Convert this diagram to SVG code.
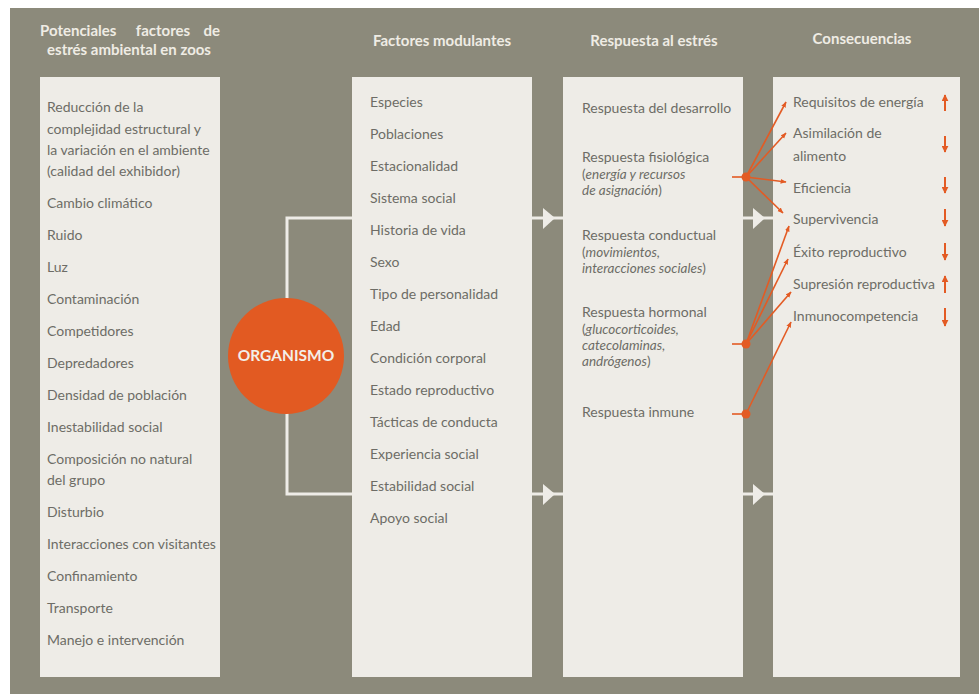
<svg xmlns="http://www.w3.org/2000/svg" width="979" height="694" viewBox="0 0 979 694">
<style>
.bg{fill:#8c8a7b}
.panel{fill:#eeece7}
.t{font-family:Lato,"Noto Sans",sans-serif;font-size:14px;fill:#6d6c66}
.ti{font-family:Lato,"Noto Sans",sans-serif;font-size:13.5px;fill:#6d6c66}
.it{font-style:italic}
.h{font-family:Lato,"Noto Sans",sans-serif;font-size:15px;font-weight:bold;fill:#efece4}
.wl{stroke:#eeece7;stroke-width:3;fill:none}
.wa{fill:#eeece7}
.ol{stroke:#e35b24;stroke-width:1.6;fill:none}
.tr{stroke:#e35b24;stroke-width:2;fill:none}
.od{fill:#e35b24}
</style>
<defs>
<marker id="oa" viewBox="0 0 10 10" refX="9" refY="5" markerWidth="6" markerHeight="6" orient="auto" markerUnits="userSpaceOnUse">
<path d="M0,1 L10,5 L0,9 Z" fill="#e35b24"/>
</marker>
<marker id="ta" viewBox="0 0 10 10" refX="9" refY="5" markerWidth="7" markerHeight="7" orient="auto" markerUnits="userSpaceOnUse">
<path d="M0,0 L10,5 L0,10 Z" fill="#e35b24"/>
</marker>
</defs>
<rect x="0" y="0" width="979" height="694" fill="#ffffff"/>
<rect class="bg" x="10" y="8" width="969" height="686"/>

<g id="connectors">
<polyline class="wl" points="773,218 287,218 287,494 773,494"/>
<path class="wa" d="M543,208 L555,218 L543,229 Z"/>
<path class="wa" d="M543,484 L555,494 L543,505 Z"/>
<path class="wa" d="M753,208 L765,218 L753,229 Z"/>
<path class="wa" d="M753,484 L765,494 L753,505 Z"/>
</g>

<g id="headers">
<text class="h" x="40" y="36">Potenciales</text>
<text class="h" x="163" y="36" text-anchor="middle">factores</text>
<text class="h" x="220" y="36" text-anchor="end">de</text>
<text class="h" x="129" y="55" text-anchor="middle">estrés ambiental en zoos</text>
<text class="h" x="442" y="46" text-anchor="middle">Factores modulantes</text>
<text class="h" x="654" y="46" text-anchor="middle">Respuesta al estrés</text>
<text class="h" x="862" y="44" text-anchor="middle">Consecuencias</text>
</g>

<g id="stressors">
<rect class="panel" x="40" y="77" width="180" height="600"/>
<text class="t" x="47" y="112">Reducción de la</text>
<text class="t" x="47" y="134">complejidad estructural y</text>
<text class="t" x="47" y="155">la variación en el ambiente</text>
<text class="t" x="47" y="176">(calidad del exhibidor)</text>
<text class="t" x="47" y="208">Cambio climático</text>
<text class="t" x="47" y="240">Ruido</text>
<text class="t" x="47" y="272">Luz</text>
<text class="t" x="47" y="304">Contaminación</text>
<text class="t" x="47" y="336">Competidores</text>
<text class="t" x="47" y="368">Depredadores</text>
<text class="t" x="47" y="400">Densidad de población</text>
<text class="t" x="47" y="432">Inestabilidad social</text>
<text class="t" x="47" y="464">Composición no natural</text>
<text class="t" x="47" y="485">del grupo</text>
<text class="t" x="47" y="517">Disturbio</text>
<text class="t" x="47" y="549">Interacciones con visitantes</text>
<text class="t" x="47" y="581">Confinamiento</text>
<text class="t" x="47" y="613">Transporte</text>
<text class="t" x="47" y="645">Manejo e intervención</text>
</g>

<g id="organismo">
<circle cx="286" cy="356" r="58" fill="#e25a22"/>
<text x="286" y="361" text-anchor="middle" font-family="Lato,'Noto Sans',sans-serif" font-size="15.5" font-weight="bold" fill="#f3efe8">ORGANISMO</text>
</g>

<g id="modulantes">
<rect class="panel" x="352" y="77" width="180" height="600"/>
<text class="t" x="370" y="107">Especies</text>
<text class="t" x="370" y="139">Poblaciones</text>
<text class="t" x="370" y="171">Estacionalidad</text>
<text class="t" x="370" y="203">Sistema social</text>
<text class="t" x="370" y="235">Historia de vida</text>
<text class="t" x="370" y="267">Sexo</text>
<text class="t" x="370" y="299">Tipo de personalidad</text>
<text class="t" x="370" y="331">Edad</text>
<text class="t" x="370" y="363">Condición corporal</text>
<text class="t" x="370" y="395">Estado reproductivo</text>
<text class="t" x="370" y="427">Tácticas de conducta</text>
<text class="t" x="370" y="459">Experiencia social</text>
<text class="t" x="370" y="491">Estabilidad social</text>
<text class="t" x="370" y="523">Apoyo social</text>
</g>

<g id="respuesta">
<rect class="panel" x="563" y="77" width="180" height="600"/>
<text class="t" x="582" y="113">Respuesta del desarrollo</text>
<text class="t" x="582" y="162">Respuesta fisiológica</text>
<text class="ti" x="582" y="179">(<tspan class="it">energía y recursos</tspan></text>
<text class="ti" x="582" y="195"><tspan class="it">de asignación</tspan>)</text>
<text class="t" x="582" y="240">Respuesta conductual</text>
<text class="ti" x="582" y="257">(<tspan class="it">movimientos,</tspan></text>
<text class="ti" x="582" y="273"><tspan class="it">interacciones sociales</tspan>)</text>
<text class="t" x="582" y="317">Respuesta hormonal</text>
<text class="ti" x="582" y="334">(<tspan class="it">glucocorticoides,</tspan></text>
<text class="ti" x="582" y="350"><tspan class="it">catecolaminas,</tspan></text>
<text class="ti" x="582" y="366"><tspan class="it">andrógenos</tspan>)</text>
<text class="t" x="582" y="417">Respuesta inmune</text>
</g>

<g id="consecuencias">
<rect class="panel" x="773" y="77" width="187" height="600"/>
<text class="t" x="793" y="107">Requisitos de energía</text>
<text class="t" x="793" y="138">Asimilación de</text>
<text class="t" x="793" y="161">alimento</text>
<text class="t" x="793" y="193">Eficiencia</text>
<text class="t" x="793" y="224">Supervivencia</text>
<text class="t" x="793" y="257">Éxito reproductivo</text>
<text class="t" x="793" y="289">Supresión reproductiva</text>
<text class="t" x="793" y="321">Inmunocompetencia</text>
</g>

<g id="trend-arrows">
<line class="tr" x1="945" y1="111" x2="945" y2="95" marker-end="url(#ta)"/>
<line class="tr" x1="945" y1="136" x2="945" y2="152" marker-end="url(#ta)"/>
<line class="tr" x1="945" y1="177" x2="945" y2="193" marker-end="url(#ta)"/>
<line class="tr" x1="945" y1="209" x2="945" y2="226" marker-end="url(#ta)"/>
<line class="tr" x1="945" y1="243" x2="945" y2="260" marker-end="url(#ta)"/>
<line class="tr" x1="945" y1="293" x2="945" y2="276" marker-end="url(#ta)"/>
<line class="tr" x1="945" y1="308" x2="945" y2="326" marker-end="url(#ta)"/>
</g>

<g id="response-links">
<line class="ol" x1="732" y1="177" x2="746" y2="177"/>
<line class="ol" x1="746" y1="177" x2="786" y2="102" marker-end="url(#oa)"/>
<line class="ol" x1="746" y1="177" x2="786" y2="133" marker-end="url(#oa)"/>
<line class="ol" x1="746" y1="177" x2="786" y2="182" marker-end="url(#oa)"/>
<line class="ol" x1="746" y1="177" x2="783" y2="213" marker-end="url(#oa)"/>
<circle class="od" cx="746" cy="177" r="4.5"/>
<line class="ol" x1="732" y1="344" x2="746" y2="344"/>
<line class="ol" x1="746" y1="344" x2="789" y2="226" marker-end="url(#oa)"/>
<line class="ol" x1="746" y1="344" x2="788" y2="259" marker-end="url(#oa)"/>
<line class="ol" x1="746" y1="344" x2="791" y2="292" marker-end="url(#oa)"/>
<circle class="od" cx="746" cy="344" r="4.5"/>
<line class="ol" x1="732" y1="414" x2="746" y2="414"/>
<line class="ol" x1="746" y1="414" x2="791" y2="322" marker-end="url(#oa)"/>
<circle class="od" cx="746" cy="414" r="4.5"/>
</g>
</svg>
